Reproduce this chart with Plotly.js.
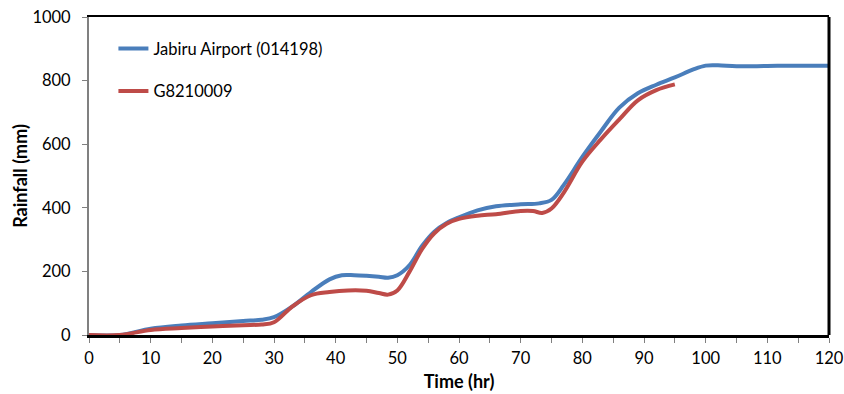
<!DOCTYPE html>
<html>
<head>
<meta charset="utf-8">
<script src="https://cdn.plot.ly/plotly-3.0.1.min.js"></script>
<style>html,body{margin:0;padding:0;background:#fff;}#chart{width:844px;height:394px;}</style>
</head>
<body>
<div id="chart"></div>
<script>
const jabiruName = "Jabiru Airport (014198)";
const jabiruHours = [0,5,10,15,20,25,28,30,33,36,39,41,43,45,47,48.5,50,52,54,56,58,60,63,66,70,73,75,77,80,83,86,89,92,95,98,100,102,105,110,115,120];
const jabiruRain  = [0,0,20,30,37,44,48,56,90,135,175,188,188,186,183,180,188,220,280,325,352,370,392,405,411,414,425,472,560,640,715,760,787,810,835,847,848,845,846,847,847];

const gaugeName = "G8210009";
const gaugeHours = [0,5,10,15,20,25,28,30,33,36,39,42,45,47,48.5,50,52,54,56,58,60,63,66,70,72,73.5,75,77,80,83,86,89,92,95];
const gaugeRain  = [0,0,16,22,27,31,33,40,90,125,135,140,139,132,127,140,200,270,320,350,365,375,380,390,390,384,398,448,545,615,678,738,770,788];

const xTicks = [0,10,20,30,40,50,60,70,80,90,100,110,120];
const yTicks = [0,200,400,600,800,1000];

const font = "Lato, 'Open Sans', sans-serif";

const traces = [
  {x: jabiruHours, y: jabiruRain, name: jabiruName, mode: "lines", legendgroup: "a",
   line: {color: "#4a7ebb", width: 4, shape: "spline", smoothing: 1}},
  {x: gaugeHours, y: gaugeRain, name: gaugeName, mode: "lines", legendgroup: "b",
   line: {color: "#be4b48", width: 4, shape: "spline", smoothing: 1}}
];

const layout = {
  width: 844, height: 394,
  margin: {l: 89, r: 15, t: 17, b: 59},
  paper_bgcolor: "#fff", plot_bgcolor: "#fff",
  font: {family: font, size: 16.5, color: "#000"},
  showlegend: true,
  legend: {x: 0.033, y: 0.955, xanchor: "left", yanchor: "top", bgcolor: "rgba(0,0,0,0)",
           tracegroupgap: 18, traceorder: "grouped", font: {family: font, size: 16.5}},
  xaxis: {
    range: [0, 120], tickmode: "array", tickvals: xTicks, ticktext: xTicks.map(String),
    ticks: "outside", ticklen: 5, tickcolor: "#808080", tickwidth: 1,
    minor: {dtick: 5, ticks: "outside", ticklen: 5, tickcolor: "#808080"},
    showline: true, linecolor: "#000", linewidth: 2.5, mirror: true,
    showgrid: false, zeroline: false, ticklabelstandoff: 2,
    title: {text: "<b>Time (hr)</b>", font: {family: font, size: 18}, standoff: 8}
  },
  yaxis: {
    range: [0, 1000], tickmode: "array", tickvals: yTicks, ticktext: yTicks.map(String),
    ticks: "outside", ticklen: 5, tickcolor: "#808080", tickwidth: 1,
    showline: true, linecolor: "#808080", linewidth: 2,
    showgrid: false, zeroline: false, ticklabelstandoff: 8,
    title: {text: "<b>Rainfall (mm)</b>", font: {family: font, size: 18}, standoff: 0}
  },
  shapes: [
    {type: "line", xref: "paper", yref: "paper", x0: 1, x1: 1, y0: 0, y1: 1,
     line: {color: "#000", width: 3}}
  ]
};

Plotly.newPlot("chart", traces, layout, {displayModeBar: false, staticPlot: true});
</script>
</body>
</html>
